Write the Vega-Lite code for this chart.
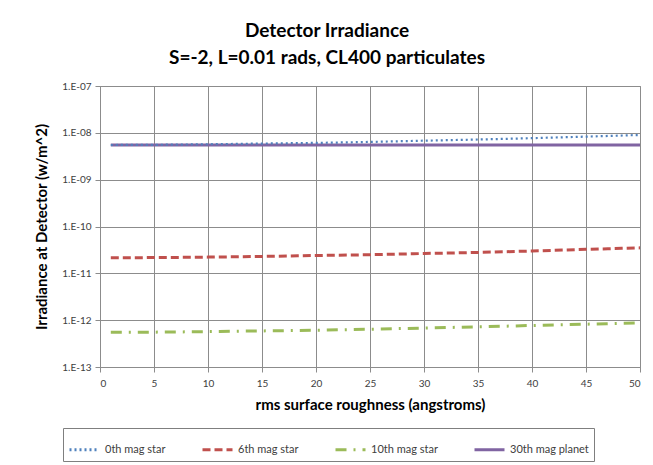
{
  "$schema": "https://vega.github.io/schema/vega-lite/v6.json",
  "width": 540,
  "height": 281,
  "autosize": {"type": "none"},
  "padding": {"left": 100, "top": 86, "right": 13, "bottom": 98},
  "background": "white",
  "config": {
    "font": "Lato",
    "view": {"stroke": "#8c8c8c", "strokeWidth": 1}
  },
  "title": {
    "text": ["Detector Irradiance", "S=-2, L=0.01 rads, CL400 particulates"],
    "fontSize": 19,
    "fontWeight": "bold",
    "color": "#000000",
    "lineHeight": 27,
    "anchor": "middle",
    "dx": -43,
    "offset": 13
  },
  "data": {
    "values": [
      {"x": 1, "y": 5.5e-9, "series": "0th mag star"},
      {"x": 5, "y": 5.55e-9, "series": "0th mag star"},
      {"x": 10, "y": 5.7e-9, "series": "0th mag star"},
      {"x": 15, "y": 5.9e-9, "series": "0th mag star"},
      {"x": 20, "y": 6.1e-9, "series": "0th mag star"},
      {"x": 25, "y": 6.4e-9, "series": "0th mag star"},
      {"x": 30, "y": 6.8e-9, "series": "0th mag star"},
      {"x": 35, "y": 7.2e-9, "series": "0th mag star"},
      {"x": 40, "y": 7.7e-9, "series": "0th mag star"},
      {"x": 45, "y": 8.3e-9, "series": "0th mag star"},
      {"x": 50, "y": 9.0e-9, "series": "0th mag star"},
      {"x": 1, "y": 2.15e-11, "series": "6th mag star"},
      {"x": 5, "y": 2.17e-11, "series": "6th mag star"},
      {"x": 10, "y": 2.22e-11, "series": "6th mag star"},
      {"x": 15, "y": 2.3e-11, "series": "6th mag star"},
      {"x": 20, "y": 2.4e-11, "series": "6th mag star"},
      {"x": 25, "y": 2.5e-11, "series": "6th mag star"},
      {"x": 30, "y": 2.65e-11, "series": "6th mag star"},
      {"x": 35, "y": 2.8e-11, "series": "6th mag star"},
      {"x": 40, "y": 3.0e-11, "series": "6th mag star"},
      {"x": 45, "y": 3.25e-11, "series": "6th mag star"},
      {"x": 50, "y": 3.5e-11, "series": "6th mag star"},
      {"x": 1, "y": 5.5e-13, "series": "10th mag star"},
      {"x": 5, "y": 5.55e-13, "series": "10th mag star"},
      {"x": 10, "y": 5.7e-13, "series": "10th mag star"},
      {"x": 15, "y": 5.9e-13, "series": "10th mag star"},
      {"x": 20, "y": 6.1e-13, "series": "10th mag star"},
      {"x": 25, "y": 6.4e-13, "series": "10th mag star"},
      {"x": 30, "y": 6.8e-13, "series": "10th mag star"},
      {"x": 35, "y": 7.2e-13, "series": "10th mag star"},
      {"x": 40, "y": 7.7e-13, "series": "10th mag star"},
      {"x": 45, "y": 8.2e-13, "series": "10th mag star"},
      {"x": 50, "y": 8.8e-13, "series": "10th mag star"},
      {"x": 1, "y": 5.5e-9, "series": "30th mag planet"},
      {"x": 50, "y": 5.5e-9, "series": "30th mag planet"}
    ]
  },
  "encoding": {
    "x": {
      "field": "x",
      "type": "quantitative",
      "scale": {"domain": [0, 50], "nice": false},
      "axis": {
        "values": [0, 5, 10, 15, 20, 25, 30, 35, 40, 45, 50],
        "title": "rms surface roughness (angstroms)",
        "titleFontSize": 15,
        "titleFontWeight": "bold",
        "titleColor": "#000000",
        "titlePadding": 9,
        "labelFontSize": 10,
        "labelColor": "#404040",
        "labelPadding": 6,
        "gridColor": "#8c8c8c",
        "gridOpacity": 1,
        "domainColor": "#8c8c8c",
        "tickColor": "#8c8c8c",
        "tickSize": 5
      }
    },
    "y": {
      "field": "y",
      "type": "quantitative",
      "scale": {"type": "log", "domain": [1e-13, 1e-7], "nice": false},
      "axis": {
        "values": [1e-13, 1e-12, 1e-11, 1e-10, 1e-9, 1e-8, 1e-7],
        "labelExpr": "'1.E-' + (round(-log(datum.value)/LN10) < 10 ? '0' : '') + round(-log(datum.value)/LN10)",
        "title": "Irradiance at Detector (w/m^2)",
        "titleFontSize": 15,
        "titleFontWeight": "bold",
        "titleColor": "#000000",
        "titlePadding": 12,
        "labelFontSize": 10,
        "labelColor": "#404040",
        "labelPadding": 4,
        "gridColor": "#8c8c8c",
        "gridOpacity": 1,
        "domainColor": "#8c8c8c",
        "tickColor": "#8c8c8c",
        "tickSize": 5
      }
    },
    "color": {
      "field": "series",
      "type": "nominal",
      "sort": ["0th mag star", "6th mag star", "10th mag star", "30th mag planet"],
      "scale": {
        "domain": ["0th mag star", "6th mag star", "10th mag star", "30th mag planet"],
        "range": ["#4F81BD", "#C0504D", "#9BBB59", "#8064A2"]
      },
      "legend": {
        "title": null,
        "orient": "none",
        "legendX": -37,
        "legendY": 342,
        "direction": "horizontal",
        "columns": 4,
        "columnPadding": 30,
        "symbolType": "stroke",
        "symbolSize": 900,
        "symbolStrokeWidth": 3,
        "labelFontSize": 11,
        "labelColor": "#404040",
        "labelOffset": 4,
        "padding": 5,
        "strokeColor": "#7f7f7f",
        "fillColor": "white"
      }
    },
    "strokeDash": {
      "field": "series",
      "type": "nominal",
      "sort": ["0th mag star", "6th mag star", "10th mag star", "30th mag planet"],
      "scale": {
        "domain": ["0th mag star", "6th mag star", "10th mag star", "30th mag planet"],
        "range": [[2, 3], [8, 4], [11, 7, 2, 7], [1, 0]]
      },
      "legend": null
    },
    "order": {"field": "x", "type": "quantitative"}
  },
  "layer": [
    {
      "transform": [{"filter": "datum.series != '0th mag star'"}],
      "mark": {"type": "line", "strokeWidth": 3, "interpolate": "monotone"}
    },
    {
      "transform": [{"filter": "datum.series == '0th mag star'"}],
      "mark": {"type": "line", "strokeWidth": 2.2, "interpolate": "monotone"}
    }
  ]
}
